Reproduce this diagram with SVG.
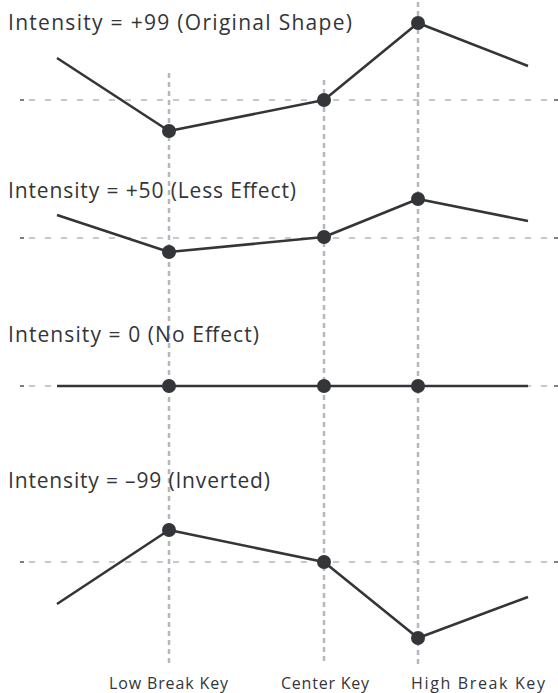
<svg xmlns="http://www.w3.org/2000/svg" width="558" height="693" viewBox="0 0 558 693">
<style>
.hg{stroke:#b4b8be;stroke-width:1.5;stroke-dasharray:6 10;fill:none}
.vg{stroke:#b4b8be;stroke-width:2.5;stroke-dasharray:5 4;fill:none}
.tick{stroke:#555;stroke-width:1.5}
.curve{stroke:#333538;stroke-width:2.6;fill:none;stroke-linejoin:round}
.dot{fill:#333538}
.t{font-family:"Open Sans","Liberation Sans",sans-serif;font-size:21px;fill:#333538}
.k{font-family:"Open Sans","Liberation Sans",sans-serif;font-size:16px;fill:#333538}
</style>
<rect width="558" height="693" fill="#ffffff"/>
<g id="grid">
<line class="vg" x1="169" y1="73" x2="169" y2="664"/>
<line class="vg" x1="324" y1="80" x2="324" y2="664"/>
<line class="vg" x1="418" y1="2" x2="418" y2="664"/>
<line class="hg" x1="29" y1="100" x2="552" y2="100"/>
<line class="hg" x1="29" y1="238" x2="552" y2="238"/>
<line class="hg" x1="29" y1="386" x2="552" y2="386"/>
<line class="hg" x1="29" y1="562" x2="552" y2="562"/>
<g class="tick">
<line x1="20" y1="100" x2="24" y2="100"/><line x1="554" y1="100" x2="558" y2="100"/>
<line x1="20" y1="238" x2="24" y2="238"/><line x1="554" y1="238" x2="558" y2="238"/>
<line x1="20" y1="386" x2="24" y2="386"/><line x1="554" y1="386" x2="558" y2="386"/>
<line x1="20" y1="562" x2="24" y2="562"/><line x1="554" y1="562" x2="558" y2="562"/>
</g>
</g>
<g id="connectors">
<polyline class="curve" points="57,58 169,131 324,100 418,23 528,66"/>
<polyline class="curve" points="57,215 169,252 324,237 418,199 528,221"/>
<polyline class="curve" points="57,386 169,386 324,386 418,386 528,386"/>
<polyline class="curve" points="57,604 169,530 324,562 418,638 528,597"/>
</g>
<g id="row-plus99">
<text class="t" x="8" y="30" textLength="344" lengthAdjust="spacing">Intensity = +99 (Original Shape)</text>
<circle class="dot" cx="169" cy="131" r="7"/><circle class="dot" cx="324" cy="100" r="7"/><circle class="dot" cx="418" cy="23" r="7"/>
</g>
<g id="row-plus50">
<text class="t" x="8" y="198" textLength="288" lengthAdjust="spacing">Intensity = +50 (Less Effect)</text>
<circle class="dot" cx="169" cy="252" r="7"/><circle class="dot" cx="324" cy="237" r="7"/><circle class="dot" cx="418" cy="199" r="7"/>
</g>
<g id="row-zero">
<text class="t" x="8" y="342" textLength="251" lengthAdjust="spacing">Intensity = 0 (No Effect)</text>
<circle class="dot" cx="169" cy="386" r="7"/><circle class="dot" cx="324" cy="386" r="7"/><circle class="dot" cx="418" cy="386" r="7"/>
</g>
<g id="row-minus99">
<text class="t" x="8" y="488" textLength="262" lengthAdjust="spacing">Intensity = –99 (Inverted)</text>
<circle class="dot" cx="169" cy="530" r="7"/><circle class="dot" cx="324" cy="562" r="7"/><circle class="dot" cx="418" cy="638" r="7"/>
</g>
<g id="labels">
<text class="k" x="109" y="689" textLength="119" lengthAdjust="spacing">Low Break Key</text>
<text class="k" x="281" y="689" textLength="88" lengthAdjust="spacing">Center Key</text>
<text class="k" x="411" y="689" textLength="134" lengthAdjust="spacing">High Break Key</text>
</g>
</svg>
